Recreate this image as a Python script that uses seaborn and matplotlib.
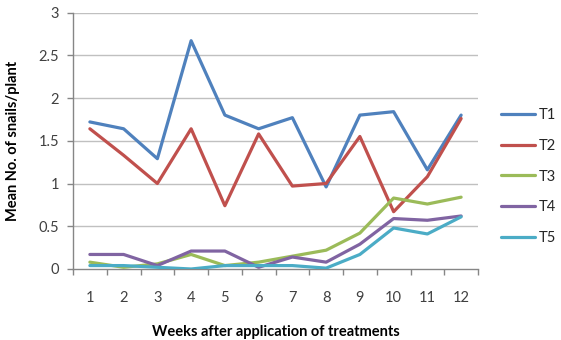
import matplotlib
matplotlib.use("Agg")
import matplotlib.pyplot as plt
import seaborn as sns
import pandas as pd
import numpy as np

# Mean number of snails per plant by week, per treatment
weeks = [1, 2, 3, 4, 5, 6, 7, 8, 9, 10, 11, 12]
t1 = [1.72, 1.64, 1.29, 2.67, 1.80, 1.64, 1.77, 0.96, 1.80, 1.84, 1.16, 1.80]
t2 = [1.64, 1.33, 1.00, 1.64, 0.74, 1.58, 0.97, 1.00, 1.55, 0.67, 1.08, 1.76]
t3 = [0.08, 0.02, 0.06, 0.17, 0.04, 0.08, 0.15, 0.22, 0.42, 0.83, 0.76, 0.84]
t4 = [0.17, 0.17, 0.04, 0.21, 0.21, 0.02, 0.14, 0.08, 0.29, 0.59, 0.57, 0.62]
t5 = [0.04, 0.04, 0.02, 0.00, 0.04, 0.04, 0.04, 0.01, 0.17, 0.48, 0.41, 0.61]
treatments = ["T1", "T2", "T3", "T4", "T5"]
colors = ["#4F81BD", "#C0504D", "#9BBB59", "#8064A2", "#4BACC6"]

df = pd.DataFrame({
    "week": weeks * 5,
    "snails": t1 + t2 + t3 + t4 + t5,
    "treatment": [t for t in treatments for _ in weeks],
})

sns.set_theme(style="white")
plt.rcParams["font.family"] = ["Lato", "DejaVu Sans"]

W, H = 561, 340
fig = plt.figure(figsize=(W / 100, H / 100), dpi=100)
left, right, top, bottom = 73, 478, 12.5, 269
ax = fig.add_axes([left / W, 1 - bottom / H, (right - left) / W, (bottom - top) / H])

sns.lineplot(data=df, x="week", y="snails", hue="treatment",
             palette=dict(zip(treatments, colors)), linewidth=2.3,
             ax=ax, legend=False, zorder=3)

axis_gray = "#868686"
grid_gray = "#C0C0C0"

ax.set_ylim(0, 3)
ax.set_yticks(np.arange(0, 3.01, 0.5))
ax.set_yticklabels(["0", "0.5", "1", "1.5", "2", "2.5", "3"])
for yv in np.arange(0.5, 3.01, 0.5):
    ax.axhline(yv, color=grid_gray, linewidth=1.0, zorder=1)

ax.set_xlim(0.5, 12.5)
ax.set_xticks(np.arange(0.5, 12.6, 1.0))
ax.set_xticklabels([])
ax.set_xticks(weeks, minor=True)
ax.set_xticklabels([str(w) for w in weeks], minor=True)

for s in ["top", "right"]:
    ax.spines[s].set_visible(False)
for s in ["left", "bottom"]:
    ax.spines[s].set_color(axis_gray)
    ax.spines[s].set_linewidth(1.0)

ax.tick_params(axis="y", which="major", direction="out", length=4, width=1.0,
               color=axis_gray, labelsize=10.5, labelcolor="#404040", pad=6, left=True)
ax.tick_params(axis="x", which="major", direction="out", length=4, width=1.0,
               color=axis_gray, bottom=True)
ax.tick_params(axis="x", which="minor", length=0, labelsize=10.5,
               labelcolor="#404040", pad=16)

ax.set_xlabel("Weeks after application of treatments", fontsize=10.5,
              fontweight="bold", color="black", labelpad=14)
ax.set_ylabel("Mean No. of snails/plant", fontsize=10.5,
              fontweight="bold", color="black", labelpad=13)

handles = [plt.Line2D([], [], color=c, linewidth=2.3) for c in colors]
fig.legend(handles, treatments, loc="center left",
           bbox_to_anchor=(488 / W, 1 - 176.5 / H), frameon=False,
           fontsize=10.5, handlelength=2.3, handletextpad=0.25, labelspacing=1.15)

fig.savefig("out.png", dpi=100)
